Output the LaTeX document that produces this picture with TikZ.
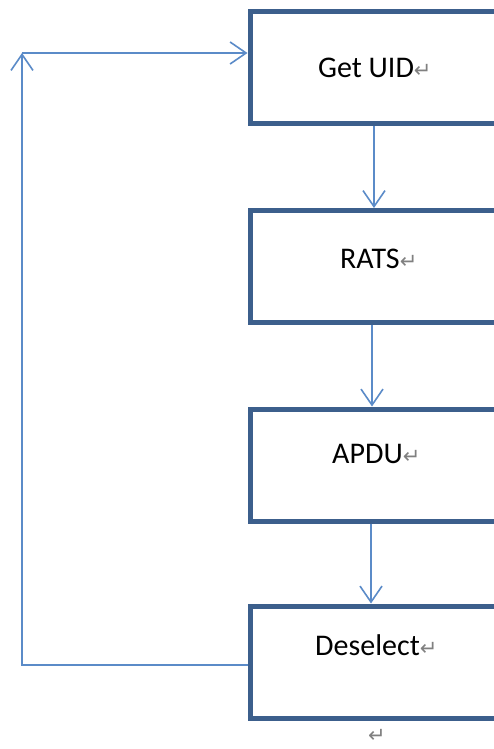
\documentclass[tikz,border=0pt]{standalone}
\usepackage{fontspec}
\setmainfont{Carlito}
\newfontfamily\dejavu{DejaVu Sans}
\usetikzlibrary{arrows.meta}
\definecolor{boxblue}{HTML}{3C5F8C}
\definecolor{lineblue}{HTML}{5B8BC8}
\definecolor{markgray}{HTML}{808080}
\newcommand{\parmark}{{\color{markgray}\dejavu\fontsize{21}{21}\selectfont ↵}}
\tikzset{
  stepbox/.style={draw=boxblue, line width=5pt, minimum width=270pt, minimum height=112pt, inner sep=0pt},
  steplabel/.style={anchor=base west, inner sep=0pt, font=\fontsize{30}{36}\selectfont, text=black},
  flow/.style={draw=lineblue, line width=1.6pt, -{Straight Barb[length=16pt,width=22pt,line width=1.6pt]}},
  plain/.style={draw=lineblue, line width=1.6pt}
}
\begin{document}
\begin{tikzpicture}[x=1pt,y=-1pt]
\useasboundingbox (0,0) rectangle (494,749);
\clip (0,0) rectangle (494,749);
\node[stepbox] (b1) at (385,68) {};
\node[stepbox] (b2) at (385,266.5) {};
\node[stepbox] (b3) at (385,465) {};
\node[stepbox] (b4) at (385,662) {};
\node[steplabel] (t1) at (318,78) {Get UID\parmark};
\node[steplabel] (t2) at (340,268) {RATS\parmark};
\node[steplabel] (t3) at (332,463) {APDU\parmark};
\node[steplabel] (t4) at (315,655) {Deselect\parmark};
\node[anchor=base west, inner sep=0pt] (t5) at (368,742) {\parmark};
\coordinate (x1) at (374,0);
\coordinate (x2) at (372,0);
\coordinate (x3) at (371,0);
\draw[flow] (b1.south -| x1) -- (b2.north -| x1);
\draw[flow] (b2.south -| x2) -- (b3.north -| x2);
\draw[flow] (b3.south -| x3) -- (b4.north -| x3);
\coordinate (c1) at (22,665);
\coordinate (c2) at (22,53);
\draw[flow] (b4.west |- c1) -- (c1) -- (c2);
\draw[flow] (c2) -- (b1.west |- c2);
\end{tikzpicture}
\end{document}
